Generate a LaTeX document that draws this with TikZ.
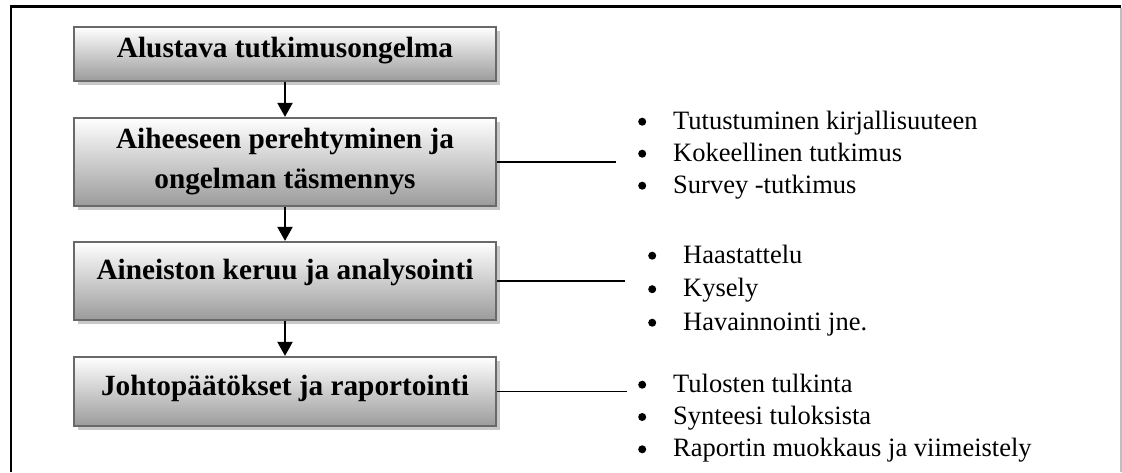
\documentclass[tikz,border=0pt]{standalone}
\usepackage{fontspec}
\setmainfont{Liberation Serif}
\usetikzlibrary{arrows.meta,shadows,calc}

\definecolor{boxedge}{RGB}{105,105,105}
\definecolor{boxlow}{RGB}{155,155,155}
\definecolor{shadowgrey}{RGB}{200,200,200}
\definecolor{frameright}{RGB}{190,190,190}

% round list bullet, centred a little above the baseline
\newcommand{\listdot}{\tikz[baseline=-7.3pt]\fill[black] (0pt,0pt) circle (4pt);}

\begin{document}
\begin{tikzpicture}[x=1pt,y=-1pt,
  stepbox/.style={draw=boxedge, line width=2.2pt, top color=white, bottom color=boxlow,
    minimum width=422pt, inner sep=0pt,
    font=\fontsize{29.3}{40}\bfseries\selectfont,
    general shadow={fill=shadowgrey, shadow xshift=4pt, shadow yshift=-4pt}},
  flowarrow/.style={line width=2pt, -{Triangle[width=15pt,length=14pt]}},
  linkline/.style={line width=1.6pt},
  bulletlist/.style={inner sep=0pt, anchor=base west},
]
\useasboundingbox (0,0) rectangle (1122,472);

% outer frame
\draw[line width=2.5pt] (9.75,6.5) -- (1121,6.5);
\draw[line width=2.5pt] (11,5.25) -- (11,472);
\draw[frameright, line width=1.5pt] (1121,7.5) -- (1121,472);

% process steps
\node[stepbox, minimum height=54pt, text height=20pt, text depth=13pt] (b1) at (285,54) {Alustava tutkimusongelma};
\node[stepbox, align=center, minimum height=88pt] (b2) at (285,162) {Aiheeseen perehtyminen ja\\ongelman täsmennys};
\node[stepbox, minimum height=78pt, text height=20pt, text depth=24pt] (b3) at (285,281) {Aineiston keruu ja analysointi};
\node[stepbox, minimum height=69pt, text height=20pt, text depth=13pt] (b4) at (285,391.5) {Johtopäätökset ja raportointi};

% flow between steps
\draw[flowarrow] (b1) -- (b2);
\draw[flowarrow] (b2) -- (b3);
\draw[flowarrow] (b3) -- (b4);

% side lists
\node[bulletlist, font=\fontsize{26.5}{32}\selectfont] (l2) at (638,129)
  {\begin{tabular}[t]{@{}l@{\hspace{27pt}}l@{}}
    \listdot & Tutustuminen kirjallisuuteen\\
    \listdot & Kokeellinen tutkimus\\
    \listdot & Survey -tutkimus
  \end{tabular}};
\node[bulletlist, font=\fontsize{26.5}{33.5}\selectfont] (l3) at (648,263)
  {\begin{tabular}[t]{@{}l@{\hspace{27pt}}l@{}}
    \listdot & Haastattelu\\
    \listdot & Kysely\\
    \listdot & Havainnointi jne.
  \end{tabular}};
\node[bulletlist, font=\fontsize{26.5}{32.3}\selectfont] (l4) at (638,392)
  {\begin{tabular}[t]{@{}l@{\hspace{27pt}}l@{}}
    \listdot & Tulosten tulkinta\\
    \listdot & Synteesi tuloksista\\
    \listdot & Raportin muokkaus ja viimeistely
  \end{tabular}};

% links from steps to their lists
\coordinate (e2) at (616,162);
\coordinate (e3) at (625,281);
\coordinate (e4) at (627,391.5);
\draw[linkline] (b2.east) -- (e2);
\draw[linkline] (b3.east) -- (e3);
\draw[linkline] (b4.east) -- (e4);
\end{tikzpicture}
\end{document}
